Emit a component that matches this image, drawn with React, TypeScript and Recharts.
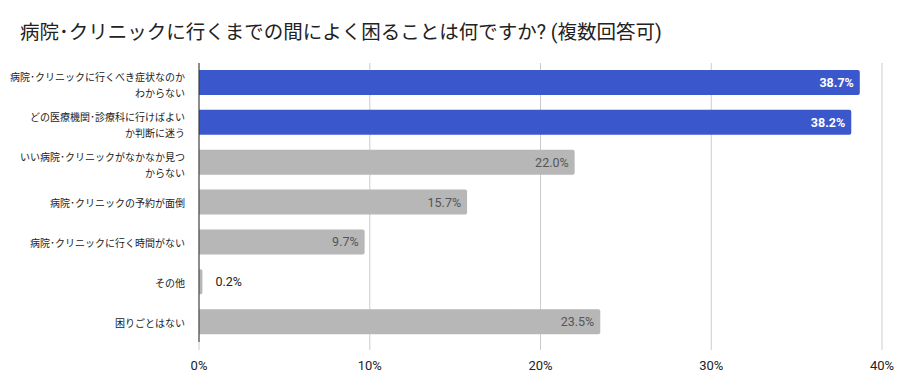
import React from 'react';
import { BarChart, Bar, XAxis, YAxis, CartesianGrid, Cell, LabelList } from 'recharts';

const categories = [
  '病院･クリニックに行くべき症状なのか\nわからない',
  'どの医療機関･診療科に行けばよい\nか判断に迷う',
  'いい病院･クリニックがなかなか見つ\nからない',
  '病院･クリニックの予約が面倒',
  '病院･クリニックに行く時間がない',
  'その他',
  '困りごとはない',
];
const values = [38.7, 38.2, 22.0, 15.7, 9.7, 0.2, 23.5];
const highlighted = [true, true, false, false, false, false, false];
const xTicks = [0, 10, 20, 30, 40];

const data = categories.map((name, i) => ({ name, value: values[i], hi: highlighted[i] }));

const FONT = "Roboto, 'Noto Sans CJK JP', sans-serif";

const CategoryTick = (props: any) => {
  const { x, y, payload } = props;
  const lines: string[] = String(payload.value).split('\n');
  const start = -((lines.length - 1) * 16) / 2;
  return (
    <text x={x - 6} y={y} textAnchor="end" fontSize={10} fill="#222" fontFamily={FONT}>
      {lines.map((l, i) => (
        <tspan key={i} x={x - 6} dy={i === 0 ? start + (lines.length > 1 ? 6 : 4.5) : 16}>
          {l}
        </tspan>
      ))}
    </text>
  );
};

const ValueLabel = (props: any) => {
  const { x, y, width, height, value, index } = props;
  const hi = highlighted[index];
  const cy = y + height / 2 + 4.5;
  const txt = `${Number(value).toFixed(1)}%`;
  if (width < 40) {
    return (
      <text x={x + width + 13} y={cy} fontSize={12.5} fill="#222" fontFamily={FONT}>
        {txt}
      </text>
    );
  }
  return (
    <text
      x={x + width - 6}
      y={cy}
      textAnchor="end"
      fontSize={12.5}
      fontWeight={hi ? 700 : 400}
      fill={hi ? '#ffffff' : '#555555'}
      fontFamily={FONT}
    >
      {txt}
    </text>
  );
};

export default function App() {
  return (
    <div style={{ position: 'absolute', left: 0, top: 0, width: 904, height: 392, background: '#fff' }}>
      <div
        style={{
          position: 'absolute',
          left: 20,
          top: 19,
          fontFamily: FONT,
          fontSize: 19.5,
          lineHeight: '28px',
          color: '#222',
          whiteSpace: 'nowrap',
        }}
      >
        病院･クリニックに行くまでの間によく困ることは何ですか? (複数回答可)
      </div>
      <BarChart
        width={904}
        height={392}
        data={data}
        layout="vertical"
        margin={{ top: 63, right: 22, bottom: 20, left: 0 }}
        barSize={25}
      >
        <CartesianGrid horizontal={false} stroke="#cccccc" />
        <XAxis
          type="number"
          domain={[0, 40]}
          ticks={xTicks}
          tickFormatter={(v) => `${v}%`}
          axisLine={false}
          tickLine={{ stroke: '#cccccc' }}
          tickSize={8}
          tickMargin={11}
          height={30}
          tick={{ fontSize: 13, fill: '#222', fontFamily: FONT }}
          interval={0}
        />
        <YAxis
          type="category"
          dataKey="name"
          width={199}
          axisLine={{ stroke: '#333333' }}
          tickLine={false}
          tick={<CategoryTick />}
          interval={0}
        />
        <Bar dataKey="value" isAnimationActive={false} radius={[0, 2, 2, 0]}>
          {data.map((d, i) => (
            <Cell key={i} fill={d.hi ? '#3a58cb' : '#b7b7b7'} />
          ))}
          <LabelList dataKey="value" content={<ValueLabel />} />
        </Bar>
      </BarChart>
    </div>
  );
}
